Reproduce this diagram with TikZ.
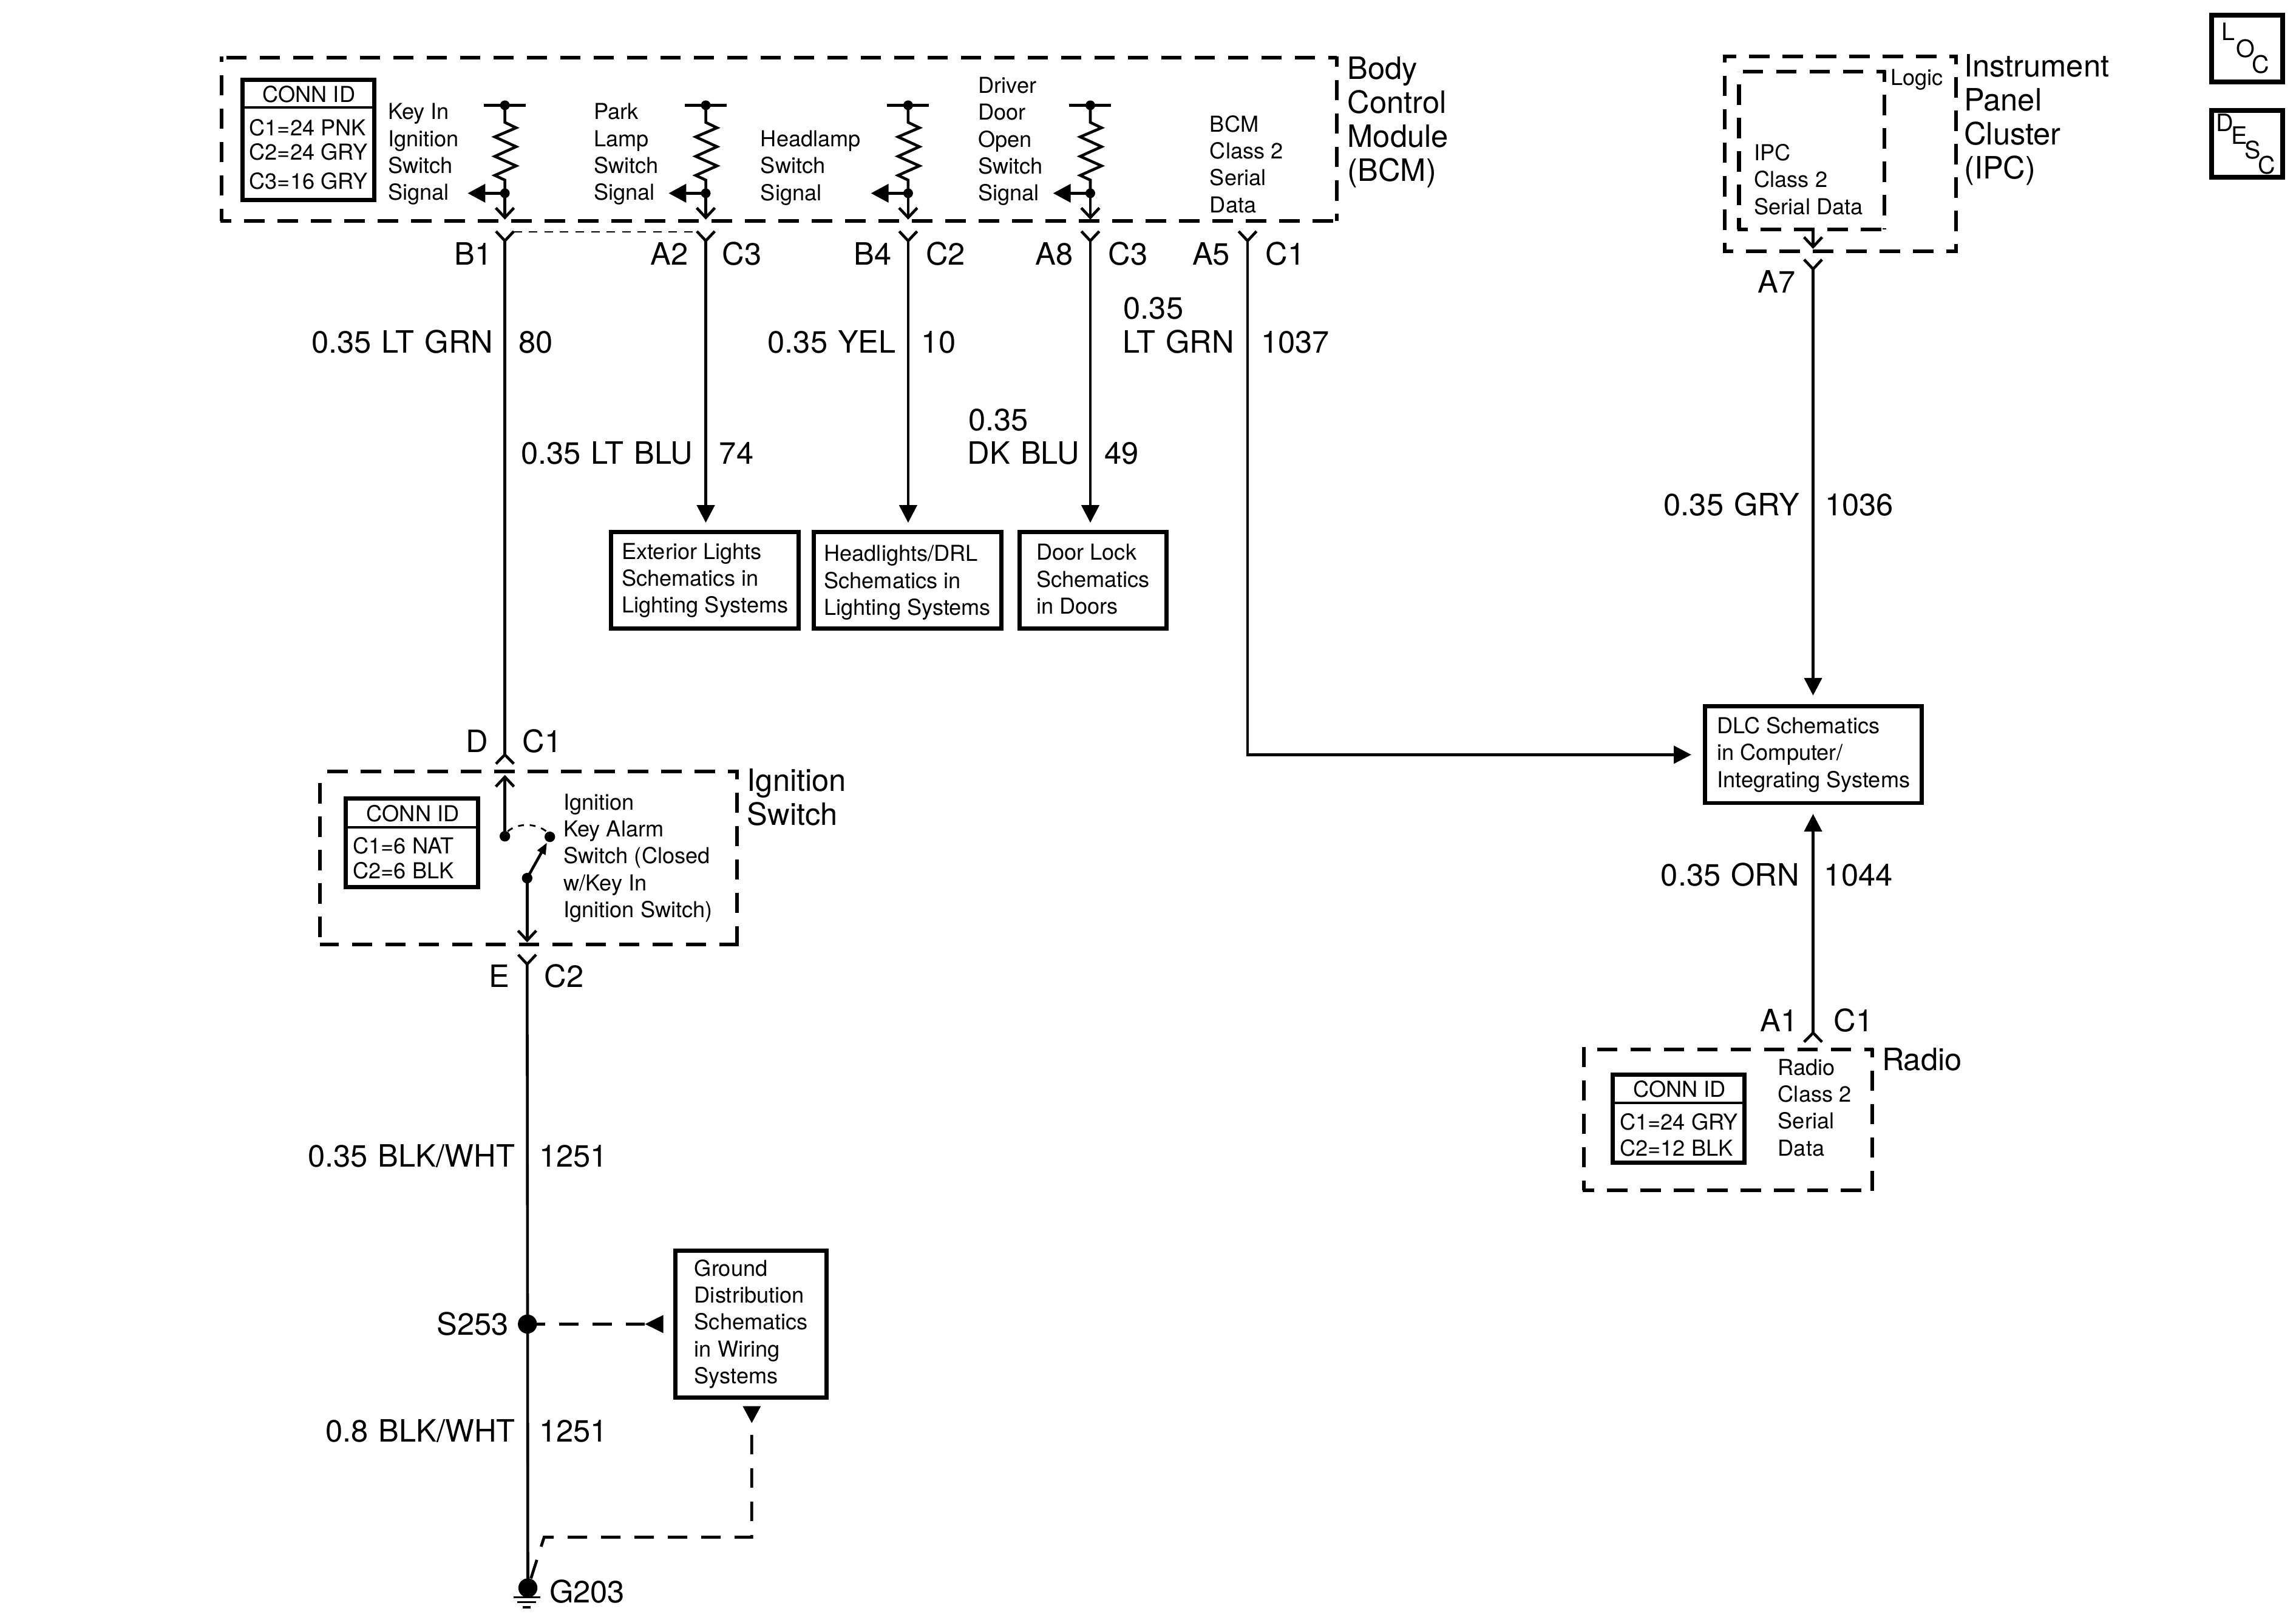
\documentclass[tikz,border=0pt]{standalone}
\usepackage{fontspec}
\setmainfont{TeX Gyre Heros}
\usetikzlibrary{arrows.meta}
\newcommand\bigfnt{\fontsize{14.94}{16.5}\selectfont\spaceskip=.335em\relax}
\newcommand\smlfnt{\fontsize{10.67}{13.07}\selectfont}
\newcommand\locfnt{\fontsize{11.67}{13}\selectfont}
\tikzset{
  wire/.style={line width=1.35pt,line join=miter},
  thick box/.style={draw,line width=2.05pt,rectangle,inner sep=0pt},
  modbox/.style={draw,line width=1.8pt,dash pattern=on .3475cm off .2225cm},
  dline/.style={line width=1.4pt,dash pattern=on .3325cm off .2375cm},
  thindash/.style={line width=.85pt,dash pattern=on .145cm off .12cm},
  big/.style={font=\bigfnt,inner sep=0pt,anchor=base west},
  bigm/.style={font=\bigfnt,align=left,inner sep=0pt,anchor=north west,yshift=.4077cm,execute at begin node=\strut},
  sml/.style={font=\smlfnt,align=left,inner sep=0pt,anchor=north west,yshift=.322cm,execute at begin node=\strut},
  smlc/.style={font=\smlfnt,inner sep=0pt,anchor=base},
  ltr/.style={font=\locfnt,inner sep=0pt,anchor=base west},
  boxtxt/.style={thick box,font=\smlfnt,align=left},
  jdot/.style={circle,fill,inner sep=0pt,minimum size=.165cm},
  bdot/.style={circle,fill,inner sep=0pt,minimum size=.325cm},
  barb/.tip={Straight Barb[length=.165cm,width=.31cm,line width=1.35pt]},
  sig/.tip={Triangle[length=.3cm,width=.31cm]},
  fil/.tip={Triangle[length=.3cm,width=.3cm]},
}
% [style]{name}{x1}{y1}{x2}{y2}
\newcommand\bx[6][]{%
  \pgfmathsetmacro\bxw{(#5-#3)*0.025}\pgfmathsetmacro\bxh{(#6-#4)*0.025}%
  \node[thick box,minimum width=\bxw cm,minimum height=\bxh cm,#1] (#2) at ({(#3+#5)/2},{(#4+#6)/2}) {};}
\newcommand\ydown[1]{\draw[wire] (#1) ++(-6.1,-6.5) -- (#1) -- ++(6.1,-6.5);}
\newcommand\yup[1]{\draw[wire] (#1) ++(-6.1,6.2) -- (#1) -- ++(6.1,6.2);}
% one side of a module box: start, end, dash phase
\newcommand\dside[3]{\draw[modbox,dash phase=#3*0.025cm] #1 -- #2;}
\begin{document}
\begin{tikzpicture}[x=0.025cm,y=-0.025cm]
\useasboundingbox[fill=white] (0,0) rectangle (1568,1104.47);
% ---- module boxes
\dside{(913,39.5)}{(151.5,39.5)}{8}
\dside{(151.5,38.5)}{(151.5,151)}{10}
\dside{(150.5,151)}{(914,151)}{6.6}
\dside{(913,38.5)}{(913,151)}{6.6}
\dside{(504.5,527)}{(218.5,527)}{6.6}
\dside{(218.5,527)}{(218.5,645)}{14.9}
\dside{(218.5,645)}{(504.5,645)}{1}
\dside{(503.5,526)}{(503.5,646)}{7.5}
\dside{(1176.7,38.7)}{(1337,38.7)}{5}
\dside{(1177.7,38)}{(1177.7,171.6)}{9}
\dside{(1176.7,171.6)}{(1337,171.6)}{7}
\dside{(1336,38)}{(1336,172.6)}{8}
\dside{(1287.8,48.8)}{(1187.6,48.8)}{7.5}
\dside{(1187.6,48.8)}{(1187.6,156.6)}{13.9}
\dside{(1186.6,156.6)}{(1286.8,156.6)}{7}
\dside{(1286.8,48)}{(1286.8,156.6)}{6}
\dside{(1081.7,716.9)}{(1279.5,716.9)}{13.9}
\dside{(1081.7,715)}{(1081.7,813)}{0}
\dside{(1080.7,813)}{(1279.5,813)}{6}
\dside{(1278.5,716)}{(1278.5,814)}{7.5}
% ---- module names
\node[bigm] (nbcm) at (920,55) {Body\\Control\\Module\\(BCM)};
\node[bigm] (nign) at (510,541.3) {Ignition\\Switch};
\node[bigm] (nipc) at (1341,53.2) {Instrument\\Panel\\Cluster\\(IPC)};
\node[big] (nrad) at (1285,731) {Radio};
% ---- conn id boxes
\bx{cid1}{165.5}{54.5}{255.5}{136.5}
\draw[line width=1.1pt] (cid1.west |- 0,73.3) -- (cid1.east |- 0,73.3);
\node[smlc] (cid1t) at (211,69.7) {CONN ID};
\node[sml] (cid1c) at (170,92.3) {C1=24 PNK};
\node[sml] (cid1d) at (170,109) {C2=24 GRY};
\node[sml] (cid1e) at (170,129) {C3=16 GRY};
\bx{cid2}{236}{545.5}{326.5}{606}
\draw[line width=1.1pt] (cid2.west |- 0,565) -- (cid2.east |- 0,565);
\node[smlc] (cid2t) at (282,561) {CONN ID};
\node[sml] (cid2c) at (240.8,584.6) {C1=6 NAT\\[-.9pt]C2=6 BLK};
\bx{cid3}{1101.5}{734}{1191.5}{794}
\draw[line width=1.1pt] (cid3.west |- 0,753.2) -- (cid3.east |- 0,753.2);
\node[smlc] (cid3t) at (1147,749.5) {CONN ID};
\node[sml] (cid3c) at (1106,773.3) {C1=24 GRY\\[-.4pt]C2=12 BLK};
% ---- small labels
\node[sml] (t1) at (264.7,83.3) {Key In\\Ignition\\Switch\\Signal};
\node[sml] (t2) at (405.2,83.3) {Park\\Lamp\\Switch\\Signal};
\node[sml] (t3) at (519.2,101.8) {Headlamp\\Switch\\Signal};
\node[sml] (t4) at (667.8,65.3) {Driver\\Door\\Open\\Switch\\Signal};
\node[sml] (t5) at (826,91.4) {BCM\\Class 2\\Serial\\Data};
\node[sml] (t6) at (384.6,554.8) {Ignition\\Key Alarm\\Switch (Closed\\w/Key In\\Ignition Switch)};
\node[sml] (t7) at (1197.7,111) {IPC\\Class 2\\Serial Data};
\node[sml] (t8) at (1291,58) {Logic};
\node[sml] (t9) at (1214,736) {Radio\\Class 2\\Serial\\Data};
% ---- resistor stacks
\foreach \n/\x in {1/344.8,2/482,3/620.2,4/744.6}{
  \node[jdot] (rt\n) at (\x,71.9) {};
  \node[jdot] (rb\n) at (\x,132) {};
  \coordinate (rf\n) at (\x,150);
  \coordinate (ra\n) at (\x-25.4,132);
  \draw[wire] (\x-14.3,71.9) -- (\x+14.3,71.9);
  \draw[wire] (rt\n.center) -- (\x,83.6) -- (\x+7.7,87.3) -- (\x-6.9,93.5) -- (\x+7.7,100.2) -- (\x-6.9,106.8) -- (\x+7.7,113.3) -- (\x-6.9,119.8) -- (\x,123) -- (rb\n.center);
  \draw[wire,-barb] (rb\n.center) -- (rf\n);
  \draw[wire,-sig] (rb\n.center) -- (ra\n);
  \coordinate (yc\n) at (\x,164.5);
}
\coordinate (yc5) at (852,164.5);
\foreach \n in {1,2,3,4,5}{\ydown{yc\n}}
\draw[thindash] (350.6,158.4) -- (476.8,158.4);
% ---- target boxes
\node[boxtxt,minimum width=3.2cm,minimum height=1.65cm] (ext) at (481.5,396.5) {Exterior Lights\\Schematics in\\Lighting Systems};
\node[boxtxt,minimum width=3.2cm,minimum height=1.65cm] (hdl) at (619.7,396.5) {\rule{0pt}{9.9pt}Headlights/DRL\\Schematics in\\Lighting Systems};
\node[boxtxt,minimum width=2.5cm,minimum height=1.65cm] (dlk) at (746.5,396.5) {Door Lock\\Schematics\\in Doors\rule[-1.4pt]{0pt}{1pt}};
\node[boxtxt,minimum width=3.7cm,minimum height=1.65cm] (dlc) at (1238.5,515.5) {DLC Schematics\\in Computer/\\Integrating Systems};
\node[boxtxt,minimum width=2.58cm,minimum height=2.5cm] (gbx) at (513,904.4) {Ground\\Distribution\\Schematics\\in Wiring\\Systems};
% ---- wires from BCM
\coordinate (yd) at (344.8,515.5);
\yup{yd}
\draw[wire] (yc1) -- (yd);
\draw[wire,-fil,shorten >=.125cm] (yc2) -- (yc2 |- ext.north);
\draw[wire,-fil,shorten >=.125cm] (yc3) -- (yc3 |- hdl.north);
\draw[wire,-fil,shorten >=.125cm] (yc4) -- (yc4 |- dlk.north);
\draw[wire,-fil,shorten >=.2cm] (yc5) |- (dlc.west);
% ---- connector labels
\foreach \nm/\x/\y/\t in {a1/310/181/B1,a2/444/181/A2,a3/493/181/C3,a4/583/181/B4,a5/632/181/C2,a6/707/181/A8,a7/756.6/181/C3,a8/814/181/A5,a9/864/181/C1,b1/318/514/D,b2/356.5/514/C1,b3/333.8/674.5/E,b4/371.4/674.5/C2,c1/1200.3/200/A7,c2/1202/704.5/A1,c3/1252/704.5/C1,d1/298/912/S253,d2/375/1094.6/G203}{
  \node[big] (\nm) at (\x,\y) {\t};
}
% ---- wire labels
\foreach \nm/\x/\y/\t in {e1/212.5/241/{0.35 LT GRN},e2/354/241/80,e3/355.5/317/{0.35 LT BLU},e4/491/317/74,e5/524/241/{0.35 YEL},e6/629/241/10,e7/661/294/0.35,e8/660.5/317/{DK BLU},e9/754/317/49,e10/767/218/0.35,e11/766.5/241/{LT GRN},e12/861/241/1037,f1/1136/352/{0.35 GRY},f2/1246/352/1036,f3/1134/605/{0.35 ORN},f4/1245.5/605/1044,g1/210/797/{0.35 BLK/WHT},g2/368/797/1251,g3/222/985/{0.8 BLK/WHT},g4/368/985/1251}{
  \node[big] (\nm) at (\x,\y) {\t};
}
% ---- ignition switch
\node[jdot,minimum size=.18cm] (swa) at (344.8,571.2) {};
\node[jdot,minimum size=.18cm] (swb) at (375.5,571.6) {};
\node[jdot,minimum size=.18cm] (swc) at (360,599.8) {};
\coordinate (swtop) at (344.8,529.3);
\coordinate (swbot) at (360,643.7);
\coordinate (swtip) at (373.6,575.5);
\draw[wire,-barb] (swa.center) -- (swtop);
\draw[wire,-barb] (swc.center) -- (swbot);
\draw[wire,-{Triangle[length=.2cm,width=.15cm]}] (swc.center) -- (swtip);
\draw[line width=.85pt,dash pattern=on .1cm off .1cm] (swa.60) .. controls +(7,-6) and +(-7,-6) .. (swb.120);
\coordinate (ye) at (360,658.6);
\ydown{ye}
\node[bdot] (s253) at (360.2,904.4) {};
\node[bdot] (g203) at (360.5,1084.6) {};
\draw[wire] (ye) -- (g203.center);
% ---- ground
\draw[line width=1.1pt] (350.9,1091) -- (369,1091);
\draw[line width=1.1pt] (353.2,1094.3) -- (366,1094.3);
\draw[line width=1.1pt] (357,1097.7) -- (362.4,1097.7);
\coordinate (gta) at (440.5,904.4);
\coordinate (gtb) at (513.4,972);
\draw[dline,dash phase=1.3*0.025cm] (s253.center) -- (gta);
\fill (gta) -- (453,898.2) -- (453,910.6) -- cycle;
\fill (gtb) -- (507.2,960.5) -- (519.6,960.5) -- cycle;
\draw[dline] (513.4,980) -- (513.4,1050) -- (371.6,1050) -- (g203.center);
% ---- IPC side
\coordinate (ya7) at (1238.2,183.8);
\coordinate (yra) at (1238.2,705.5);
\draw[wire,-barb] (1238.2,156.6) -- (1238.2,170);
\ydown{ya7}
\yup{yra}
\draw[wire,-fil,shorten >=.15cm] (ya7) -- (ya7 |- dlc.north);
\draw[wire,-fil,shorten >=.15cm] (yra) -- (yra |- dlc.south);
% ---- LOC / DESC
\bx[line width=2.4pt]{loc}{1510.5}{10.4}{1559}{56}
\bx[line width=2.4pt]{dsc}{1510.5}{75.6}{1559}{121}
\node[ltr] (l1) at (1517,27.4) {L};
\node[ltr] (l2) at (1527,39.1) {O};
\node[ltr] (l3) at (1537.7,49.8) {C};
\node[ltr] (d1l) at (1513.3,89.6) {D};
\node[ltr] (d2l) at (1523.7,98.4) {E};
\node[ltr] (d3l) at (1532.7,108.5) {S};
\node[ltr] (d4l) at (1541.7,118.9) {C};
\end{tikzpicture}
\end{document}
